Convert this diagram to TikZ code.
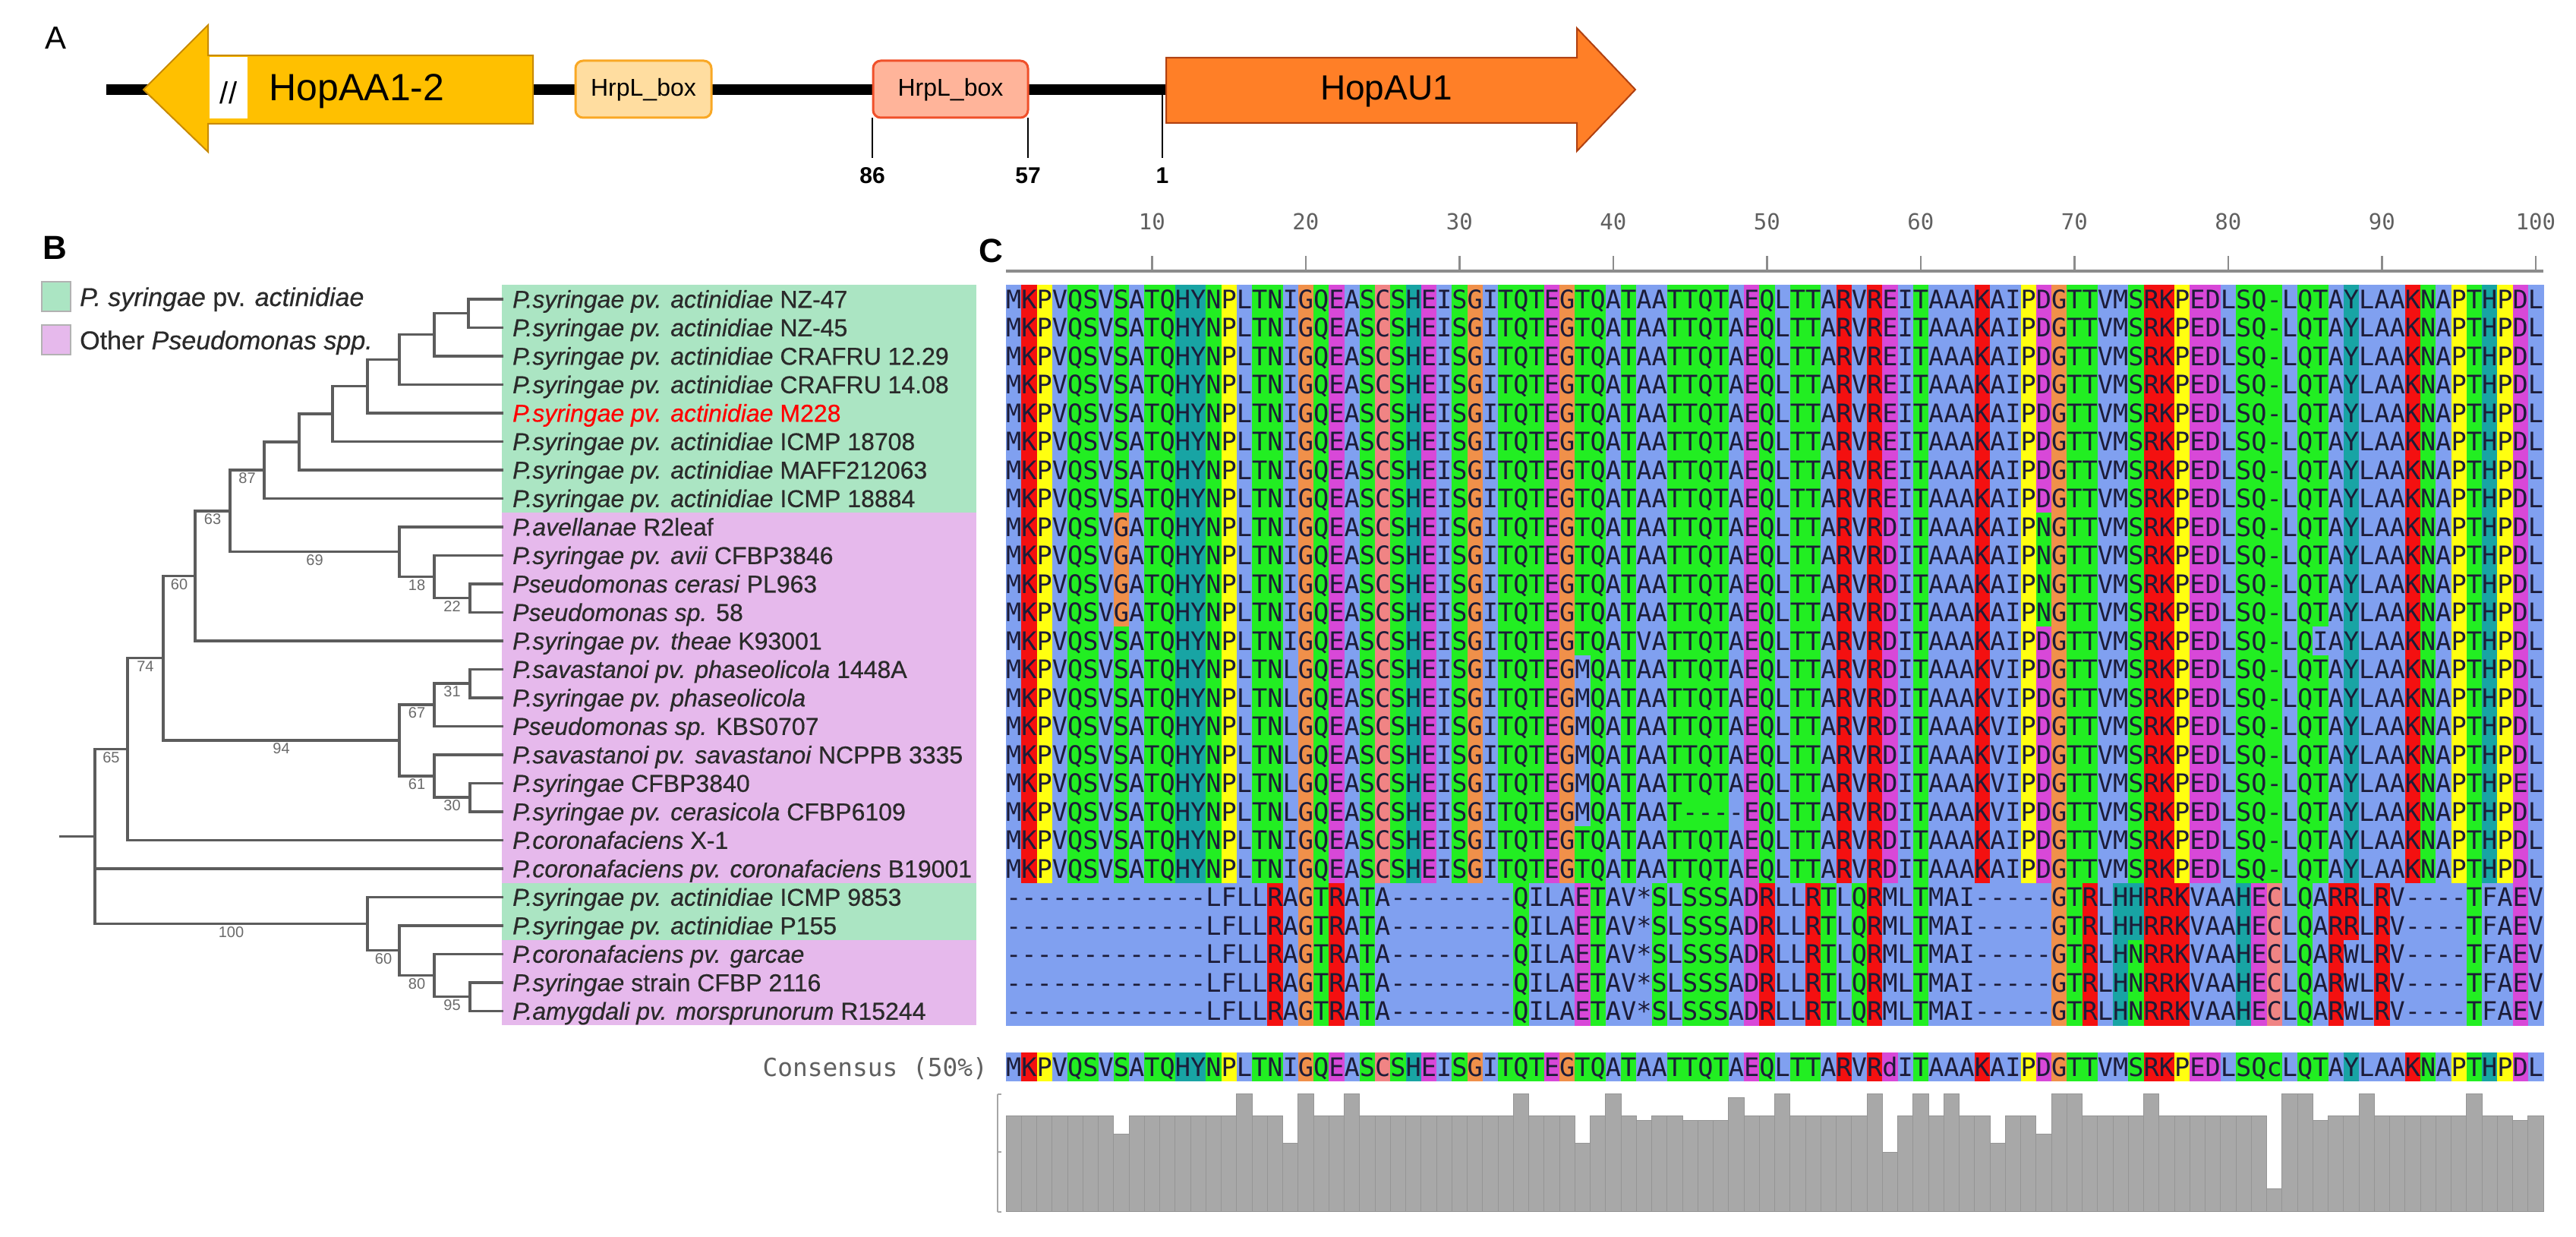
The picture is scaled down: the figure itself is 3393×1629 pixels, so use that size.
\documentclass[tikz,border=0pt]{standalone}
\usepackage{fontspec}
\setmainfont{Liberation Sans}
\newfontfamily\leaffont{Liberation Sans}[FakeBold=0.5]
\newfontfamily\monof{DejaVu Sans Mono}
\usetikzlibrary{calc}

\definecolor{cblue}{HTML}{80A0F0}
\definecolor{cgreen}{HTML}{22EE22}
\definecolor{cred}{HTML}{F41010}
\definecolor{cyellow}{HTML}{FFFF10}
\definecolor{cmag}{HTML}{D848D8}
\definecolor{corange}{HTML}{F0904A}
\definecolor{cteal}{HTML}{18A4A4}
\definecolor{cpink}{HTML}{F08484}
\definecolor{restext}{HTML}{1C1C38}
\definecolor{treegray}{HTML}{5C5C5C}
\definecolor{bootgray}{HTML}{6A6A6A}
\definecolor{leafgray}{HTML}{2A2A2A}
\definecolor{boxgreen}{HTML}{ABE5C3}
\definecolor{boxpink}{HTML}{E6B9EC}
\definecolor{hopaa}{HTML}{FFC000}
\definecolor{hopaaedge}{HTML}{C88A00}
\definecolor{hrpa}{HTML}{FFDDA0}
\definecolor{hrpaedge}{HTML}{F9A825}
\definecolor{hrpb}{HTML}{FFB49A}
\definecolor{hrpbedge}{HTML}{F0502A}
\definecolor{hopau}{HTML}{FF7F27}
\definecolor{hopauedge}{HTML}{B04010}
\definecolor{bargray}{HTML}{A8A8A8}
\definecolor{barsep}{HTML}{959595}
\definecolor{rulergray}{HTML}{8C8C8C}
\definecolor{labgray}{HTML}{606060}

\def\setrc#1#2{\expandafter\def\csname rc@#1\endcsname{#2}}
\setrc{K}{cred}\setrc{R}{cred}
\setrc{P}{cyellow}
\setrc{G}{corange}
\setrc{S}{cgreen}\setrc{T}{cgreen}\setrc{N}{cgreen}\setrc{Q}{cgreen}\setrc{=}{cgreen}\setrc{c}{cgreen}
\setrc{E}{cmag}\setrc{D}{cmag}\setrc{d}{cmag}
\setrc{H}{cteal}\setrc{Y}{cteal}
\setrc{C}{cpink}
\def\rescol#1{\ifcsname rc@#1\endcsname\csname rc@#1\endcsname\else cblue\fi}
\def\restxt#1{\ifx=#1-\else#1\fi}
\newcommand\resfont{\monof\fontsize{33.6}{36}\selectfont}

\newcommand\resdo[4]{%
  \edef\rcn{#2}%
  \edef\rcc{\rescol{#1}}%
  \pgfmathsetmacro\rx{1325+(\rcn-1)*20.25}%
  \fill[fill=\rcc] (\rx,#3) rectangle ++(20.75,38);%
  \node[res] (#4c\rcn) at (\rx+10.125,#3+31) {\restxt{#1}};%
}

\ExplSyntaxOn
\int_new:N \l_res_col_int
\NewDocumentCommand\resrow{mmm}
 {
  \int_zero:N \l_res_col_int
  \tl_map_inline:nn {#3}
   {
    \int_incr:N \l_res_col_int
    \resdo{##1}{\int_use:N \l_res_col_int}{#2}{#1}
   }
 }
\ExplSyntaxOff

\begin{document}
\begin{tikzpicture}[x=1pt,y=-1pt,
  res/.style={inner sep=0pt,anchor=base,font=\resfont,text=restext},
  treeline/.style={draw=treegray,line width=3.5pt,line cap=rect},
  boot/.style={inner sep=0pt,font=\fontsize{20}{22}\selectfont,text=bootgray},
  leaf/.style={inner sep=0pt,anchor=base west,font=\leaffont\fontsize{32}{36}\selectfont,text=leafgray},
  legtext/.style={inner sep=0pt,anchor=base west,font=\leaffont\fontsize{34}{38}\selectfont,text=leafgray},
  panellab/.style={inner sep=0pt,font=\bfseries\fontsize{44}{48}\selectfont},
  genetext/.style={inner sep=0pt,font=\fontsize{50}{54}\selectfont},
  boxtext/.style={inner sep=0pt,font=\fontsize{32}{36}\selectfont},
  postext/.style={inner sep=0pt,font=\bfseries\fontsize{30}{34}\selectfont},
  ticklab/.style={inner sep=0pt,font=\monof\fontsize{29}{32}\selectfont,text=labgray},
  rulerline/.style={draw=rulergray,line width=4pt},
  tickline/.style={draw=rulergray,line width=2.5pt},
  axisline/.style={draw=gray!70,line width=1.5pt},
]
\useasboundingbox (0,0) rectangle (3393,1629);
\fill[white] (0,0) rectangle (3393,1629);

% ---------------- Panel A ----------------
\node[inner sep=0pt,font=\fontsize{42}{46}\selectfont] (labA) at (74,50) {A};
\coordinate (lineL) at (140,118);
\coordinate (lineR) at (1536,118);
\draw[line width=14pt] (lineL) -- (lineR);
\filldraw[fill=hopaa,draw=hopaaedge,line width=2pt,line join=miter]
  (189,118) -- (274,33) -- (274,73) -- (702,73) -- (702,163) -- (274,163) -- (274,200) -- cycle;
\fill[white] (276,75) rectangle (326,156);
\node[inner sep=0pt,font=\fontsize{40}{44}\selectfont] (brk) at (301,122) {//};
\node[genetext] (gAA) at (470,120) {HopAA1-2};
\filldraw[fill=hrpa,draw=hrpaedge,line width=3pt,rounded corners=10pt] (758,80) rectangle (937,155);
\node[boxtext] (hbox1) at (847.5,118) {HrpL\_box};
\filldraw[fill=hrpb,draw=hrpbedge,line width=3pt,rounded corners=10pt] (1150,80) rectangle (1354,155);
\node[boxtext] (hbox2) at (1252,118) {HrpL\_box};
\filldraw[fill=hopau,draw=hopauedge,line width=2pt,line join=miter]
  (1536,76) -- (2077,76) -- (2077,37) -- (2154,118) -- (2077,199) -- (2077,162) -- (1536,162) -- cycle;
\node[genetext,font=\fontsize{46}{50}\selectfont] (gAU) at (1826,120) {HopAU1};
\coordinate (m86t) at (1149,155); \coordinate (m86b) at (1149,208);
\coordinate (m57t) at (1354,155); \coordinate (m57b) at (1354,208);
\coordinate (m1t) at (1531,118);  \coordinate (m1b) at (1531,208);
\draw[line width=2pt] (m86t) -- (m86b);
\draw[line width=2pt] (m57t) -- (m57b);
\draw[line width=2pt] (m1t) -- (m1b);
\node[postext] (p86) at (1149,231) {86};
\node[postext] (p57) at (1354,231) {57};
\node[postext] (p1) at (1531,231) {1};

% ---------------- Panel B ----------------
\node[panellab] (labB) at (72,326) {B};
\filldraw[fill=boxgreen,draw=gray!60,line width=1.5pt] (55,371) rectangle (93,410);
\filldraw[fill=boxpink,draw=gray!60,line width=1.5pt] (55,428) rectangle (93,467);
\node[legtext] (leg1) at (105,403) {\textit{P. syringae} pv. \textit{actinidiae}};
\node[legtext] (leg2) at (105,460) {Other \textit{Pseudomonas spp.}};

\fill[boxgreen] (661,375) rectangle (1286,675);
\fill[boxpink] (661,675) rectangle (1286,1162.5);
\fill[boxgreen] (661,1162.5) rectangle (1286,1237.5);
\fill[boxpink] (661,1237.5) rectangle (1286,1350);

\foreach \i in {1,...,26}{
  \coordinate (L\i) at (661,{393.75+(\i-1)*37.5});
}
\coordinate (a1) at (617,412.5);
\coordinate (a2) at (572,440.63);
\coordinate (a3) at (526,473.44);
\coordinate (a4) at (484,508.59);
\coordinate (a5) at (438,544.92);
\coordinate (a6) at (394,581.84);
\coordinate (a7) at (348,619.04);
\coordinate (b1) at (619,787.5);
\coordinate (b2) at (572,759.38);
\coordinate (b3) at (526,726.56);
\coordinate (c1) at (303,672.8);
\coordinate (c2) at (257,758.28);
\coordinate (d1) at (619,900);
\coordinate (d2) at (572,928.13);
\coordinate (d3) at (619,1050);
\coordinate (d4) at (572,1021.88);
\coordinate (d5) at (526,975);
\coordinate (e1) at (215,866.64);
\coordinate (e2) at (168,986.45);
\coordinate (f1) at (619,1312.5);
\coordinate (f2) at (572,1284.38);
\coordinate (f3) at (526,1251.56);
\coordinate (f4) at (484,1216.4);
\coordinate (root) at (125,1101.4);
\coordinate (rootstub) at (80,1101.4);

\draw[treeline] (rootstub) -- (root);
\foreach \p/\c in {root/e2,root/L21,root/f4,e2/e1,e2/L20,e1/c2,e1/d5,c2/c1,c2/L13,c1/a7,c1/b3,
  a7/a6,a7/L8,a6/a5,a6/L7,a5/a4,a5/L6,a4/a3,a4/L5,a3/a2,a3/L4,a2/a1,a2/L3,a1/L1,a1/L2,
  b3/L9,b3/b2,b2/L10,b2/b1,b1/L11,b1/L12,
  d5/d2,d5/d4,d2/d1,d2/L16,d1/L14,d1/L15,d4/L17,d4/d3,d3/L18,d3/L19,
  f4/L22,f4/f3,f3/L23,f3/f2,f2/L24,f2/f1,f1/L25,f1/L26}{
  \draw[treeline] (\p) |- (\c);
}

\node[boot] (bs87) at (325.5,630) {87};
\node[boot] (bs22) at (595.5,798.5) {22};
\node[boot] (bs18) at (549,770.4) {18};
\node[boot] (bs69) at (414.5,737.6) {69};
\node[boot] (bs63) at (280,683.8) {63};
\node[boot] (bs60a) at (236,769.3) {60};
\node[boot] (bs31) at (595.5,911) {31};
\node[boot] (bs67) at (549,939.1) {67};
\node[boot] (bs30) at (595.5,1061) {30};
\node[boot] (bs61) at (549,1032.9) {61};
\node[boot] (bs94) at (370.5,986) {94};
\node[boot] (bs74) at (191.5,877.6) {74};
\node[boot] (bs65) at (146.5,997.5) {65};
\node[boot] (bs95) at (595.5,1323.5) {95};
\node[boot] (bs80) at (549,1295.4) {80};
\node[boot] (bs60b) at (505,1262.6) {60};
\node[boot] (bs100) at (304.5,1227.4) {100};

\node[leaf] (t1) at (675,405.25) {\textit{P.syringae pv. actinidiae} NZ-47};
\node[leaf] (t2) at (675,442.75) {\textit{P.syringae pv. actinidiae} NZ-45};
\node[leaf] (t3) at (675,480.25) {\textit{P.syringae pv. actinidiae} CRAFRU 12.29};
\node[leaf] (t4) at (675,517.75) {\textit{P.syringae pv. actinidiae} CRAFRU 14.08};
\node[leaf,text=red] (t5) at (675,555.25) {\textit{P.syringae pv. actinidiae} M228};
\node[leaf] (t6) at (675,592.75) {\textit{P.syringae pv. actinidiae} ICMP 18708};
\node[leaf] (t7) at (675,630.25) {\textit{P.syringae pv. actinidiae} MAFF212063};
\node[leaf] (t8) at (675,667.75) {\textit{P.syringae pv. actinidiae} ICMP 18884};
\node[leaf] (t9) at (675,705.25) {\textit{P.avellanae} R2leaf};
\node[leaf] (t10) at (675,742.75) {\textit{P.syringae pv. avii} CFBP3846};
\node[leaf] (t11) at (675,780.25) {\textit{Pseudomonas cerasi} PL963};
\node[leaf] (t12) at (675,817.75) {\textit{Pseudomonas sp.} 58};
\node[leaf] (t13) at (675,855.25) {\textit{P.syringae pv. theae} K93001};
\node[leaf] (t14) at (675,892.75) {\textit{P.savastanoi pv. phaseolicola} 1448A};
\node[leaf] (t15) at (675,930.25) {\textit{P.syringae pv. phaseolicola}};
\node[leaf] (t16) at (675,967.75) {\textit{Pseudomonas sp.} KBS0707};
\node[leaf] (t17) at (675,1005.25) {\textit{P.savastanoi pv. savastanoi} NCPPB 3335};
\node[leaf] (t18) at (675,1042.75) {\textit{P.syringae} CFBP3840};
\node[leaf] (t19) at (675,1080.25) {\textit{P.syringae pv. cerasicola} CFBP6109};
\node[leaf] (t20) at (675,1117.75) {\textit{P.coronafaciens} X-1};
\node[leaf] (t21) at (675,1155.25) {\textit{P.coronafaciens pv. coronafaciens} B19001};
\node[leaf] (t22) at (675,1192.75) {\textit{P.syringae pv. actinidiae} ICMP 9853};
\node[leaf] (t23) at (675,1230.25) {\textit{P.syringae pv. actinidiae} P155};
\node[leaf] (t24) at (675,1267.75) {\textit{P.coronafaciens pv. garcae}};
\node[leaf] (t25) at (675,1305.25) {\textit{P.syringae} strain CFBP 2116};
\node[leaf] (t26) at (675,1342.75) {\textit{P.amygdali pv. morsprunorum} R15244};

% ---------------- Panel C ----------------
\node[panellab] (labC) at (1305,330) {C};
\coordinate (rulL) at (1325,357);
\coordinate (rulR) at (3350,357);
\draw[rulerline] (rulL) -- (rulR);
\foreach \t in {10,20,...,100}{
  \pgfmathsetmacro\tx{1335.125+(\t-1)*20.25}
  \draw[tickline] (\tx,337) -- (\tx,357);
  \node[ticklab] (tick\t) at (\tx,292) {\t};
}

\resrow{r1}{375}{MKPVQSVSATQHYNPLTNIGQEASCSHEISGITQTEGTQATAATTQTAEQLTTARVREITAAAKAIPDGTTVMSRKPEDLSQ=LQTAYLAAKNAPTHPDL}
\resrow{r2}{412.5}{MKPVQSVSATQHYNPLTNIGQEASCSHEISGITQTEGTQATAATTQTAEQLTTARVREITAAAKAIPDGTTVMSRKPEDLSQ=LQTAYLAAKNAPTHPDL}
\resrow{r3}{450}{MKPVQSVSATQHYNPLTNIGQEASCSHEISGITQTEGTQATAATTQTAEQLTTARVREITAAAKAIPDGTTVMSRKPEDLSQ=LQTAYLAAKNAPTHPDL}
\resrow{r4}{487.5}{MKPVQSVSATQHYNPLTNIGQEASCSHEISGITQTEGTQATAATTQTAEQLTTARVREITAAAKAIPDGTTVMSRKPEDLSQ=LQTAYLAAKNAPTHPDL}
\resrow{r5}{525}{MKPVQSVSATQHYNPLTNIGQEASCSHEISGITQTEGTQATAATTQTAEQLTTARVREITAAAKAIPDGTTVMSRKPEDLSQ=LQTAYLAAKNAPTHPDL}
\resrow{r6}{562.5}{MKPVQSVSATQHYNPLTNIGQEASCSHEISGITQTEGTQATAATTQTAEQLTTARVREITAAAKAIPDGTTVMSRKPEDLSQ=LQTAYLAAKNAPTHPDL}
\resrow{r7}{600}{MKPVQSVSATQHYNPLTNIGQEASCSHEISGITQTEGTQATAATTQTAEQLTTARVREITAAAKAIPDGTTVMSRKPEDLSQ=LQTAYLAAKNAPTHPDL}
\resrow{r8}{637.5}{MKPVQSVSATQHYNPLTNIGQEASCSHEISGITQTEGTQATAATTQTAEQLTTARVREITAAAKAIPDGTTVMSRKPEDLSQ=LQTAYLAAKNAPTHPDL}
\resrow{r9}{675}{MKPVQSVGATQHYNPLTNIGQEASCSHEISGITQTEGTQATAATTQTAEQLTTARVRDITAAAKAIPNGTTVMSRKPEDLSQ=LQTAYLAAKNAPTHPDL}
\resrow{r10}{712.5}{MKPVQSVGATQHYNPLTNIGQEASCSHEISGITQTEGTQATAATTQTAEQLTTARVRDITAAAKAIPNGTTVMSRKPEDLSQ=LQTAYLAAKNAPTHPDL}
\resrow{r11}{750}{MKPVQSVGATQHYNPLTNIGQEASCSHEISGITQTEGTQATAATTQTAEQLTTARVRDITAAAKAIPNGTTVMSRKPEDLSQ=LQTAYLAAKNAPTHPDL}
\resrow{r12}{787.5}{MKPVQSVGATQHYNPLTNIGQEASCSHEISGITQTEGTQATAATTQTAEQLTTARVRDITAAAKAIPNGTTVMSRKPEDLSQ=LQTAYLAAKNAPTHPDL}
\resrow{r13}{825}{MKPVQSVSATQHYNPLTNIGQEASCSHEISGITQTEGTQATVATTQTAEQLTTARVRDITAAAKAIPDGTTVMSRKPEDLSQ=LQIAYLAAKNAPTHPDL}
\resrow{r14}{862.5}{MKPVQSVSATQHYNPLTNLGQEASCSHEISGITQTEGMQATAATTQTAEQLTTARVRDITAAAKVIPDGTTVMSRKPEDLSQ=LQTAYLAAKNAPTHPDL}
\resrow{r15}{900}{MKPVQSVSATQHYNPLTNLGQEASCSHEISGITQTEGMQATAATTQTAEQLTTARVRDITAAAKVIPDGTTVMSRKPEDLSQ=LQTAYLAAKNAPTHPDL}
\resrow{r16}{937.5}{MKPVQSVSATQHYNPLTNLGQEASCSHEISGITQTEGMQATAATTQTAEQLTTARVRDITAAAKVIPDGTTVMSRKPEDLSQ=LQTAYLAAKNAPTHPDL}
\resrow{r17}{975}{MKPVQSVSATQHYNPLTNLGQEASCSHEISGITQTEGMQATAATTQTAEQLTTARVRDITAAAKVIPDGTTVMSRKPEDLSQ=LQTAYLAAKNAPTHPDL}
\resrow{r18}{1012.5}{MKPVQSVSATQHYNPLTNLGQEASCSHEISGITQTEGMQATAATTQTAEQLTTARVRDITAAAKVIPDGTTVMSRKPEDLSQ=LQTAYLAAKNAPTHPEL}
\resrow{r19}{1050}{MKPVQSVSATQHYNPLTNLGQEASCSHEISGITQTEGMQATAAT===-EQLTTARVRDITAAAKVIPDGTTVMSRKPEDLSQ=LQTAYLAAKNAPTHPDL}
\resrow{r20}{1087.5}{MKPVQSVSATQHYNPLTNIGQEASCSHEISGITQTEGTQATAATTQTAEQLTTARVRDITAAAKAIPDGTTVMSRKPEDLSQ=LQTAYLAAKNAPTHPDL}
\resrow{r21}{1125}{MKPVQSVSATQHYNPLTNIGQEASCSHEISGITQTEGTQATAATTQTAEQLTTARVRDITAAAKAIPDGTTVMSRKPEDLSQ=LQTAYLAAKNAPTHPDL}
\resrow{r22}{1162.5}{-------------LFLLRAGTRATA--------QILAETAV*SLSSSADRLLRTLQRMLTMAI-----GTRLHHRRKVAAHECLQARRLRV----TFAEV}
\resrow{r23}{1200}{-------------LFLLRAGTRATA--------QILAETAV*SLSSSADRLLRTLQRMLTMAI-----GTRLHHRRKVAAHECLQARRLRV----TFAEV}
\resrow{r24}{1237.5}{-------------LFLLRAGTRATA--------QILAETAV*SLSSSADRLLRTLQRMLTMAI-----GTRLHNRRKVAAHECLQARWLRV----TFAEV}
\resrow{r25}{1275}{-------------LFLLRAGTRATA--------QILAETAV*SLSSSADRLLRTLQRMLTMAI-----GTRLHNRRKVAAHECLQARWLRV----TFAEV}
\resrow{r26}{1312.5}{-------------LFLLRAGTRATA--------QILAETAV*SLSSSADRLLRTLQRMLTMAI-----GTRLHNRRKVAAHECLQARWLRV----TFAEV}

\node[inner sep=0pt,anchor=base east,font=\monof\fontsize{32.8}{36}\selectfont,text=labgray] (conslab) at (1301,1417) {Consensus (50\%)};
\resrow{cons}{1386.25}{MKPVQSVSATQHYNPLTNIGQEASCSHEISGITQTEGTQATAATTQTAEQLTTARVRdITAAAKAIPDGTTVMSRKPEDLSQcLQTAYLAAKNAPTHPDL}

% conservation bars
\foreach \cnt [count=\k] in {21,21,21,21,21,21,21,17,21,21,
  21,21,21,21,21,26,21,21,15,26,
  21,21,26,21,21,21,21,21,21,21,
  21,21,21,26,21,21,21,15,21,26,
  21,20,21,21,20,20,20,25,21,21,
  26,21,21,21,21,21,26,13,21,26,
  21,26,21,21,15,21,21,17,26,26,
  21,21,21,21,26,21,21,21,21,21,
  21,21,5,26,26,20,21,21,26,21,
  21,21,21,21,21,26,21,21,20,21}{
  \pgfmathsetmacro\bx{1325+(\k-1)*20.25}
  \pgfmathsetmacro\bh{\cnt/26*155}
  \filldraw[fill=bargray,draw=barsep,line width=1pt] (\bx,1595) rectangle ++(20.25,-\bh);
}
\coordinate (axT) at (1314,1441);
\coordinate (axB) at (1314,1596);
\draw[axisline] (axT) -- (axB);
\coordinate (axTr) at (1319,1441);
\coordinate (axBr) at (1319,1596);
\coordinate (axM) at (1314,1517);
\coordinate (axMr) at (1319,1517);
\draw[axisline] (axT) -- (axTr);
\draw[axisline] (axM) -- (axMr);
\draw[axisline] (axB) -- (axBr);
\end{tikzpicture}
\end{document}
